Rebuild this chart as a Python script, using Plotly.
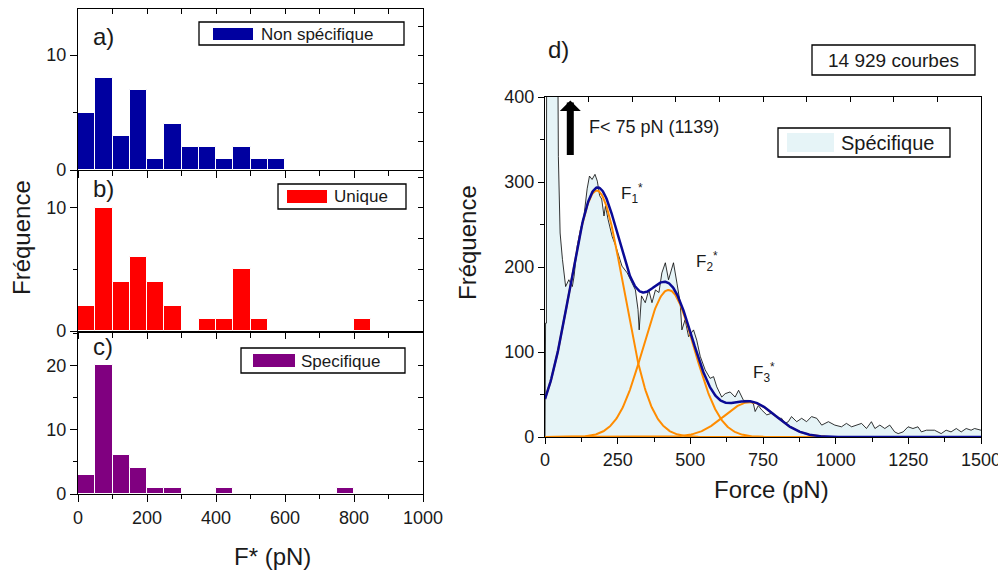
import numpy as np
import plotly.graph_objects as go

W, H = 1006, 573
OFF = 8  # page body margin of the browser
FONT = "Liberation Sans, Arial, sans-serif"
TXT = "#1a1a1a"

# ---------------- Left panels: histograms (bin width 50 pN) ----------------
bin_edges = list(range(0, 1000, 50))
non_specifique = [5, 8, 3, 7, 1, 4, 2, 2, 1, 2, 1, 1, 0, 0, 0, 0, 0, 0, 0, 0]
unique_vals = [2, 10, 4, 6, 4, 2, 0, 1, 1, 5, 1, 0, 0, 0, 0, 0, 1, 0, 0, 0]
specifique_vals = [3, 20, 6, 4, 1, 1, 0, 0, 1, 0, 0, 0, 0, 0, 0, 1, 0, 0, 0, 0]
bin_width = 50

# ---------------- Right panel: force histogram ----------------
force = [0, 2, 5, 6, 40, 46, 52, 60, 71, 82, 94, 100, 111, 122, 134, 145, 153, 162, 172,
         180, 188, 195, 203, 208, 217, 231, 243, 254, 265, 283, 300, 311, 320, 324, 332,
         345, 357, 368, 380, 392, 402, 414, 425, 442, 454, 465, 471, 482, 494, 511, 522,
         534, 551, 568, 580, 591, 608, 620, 637, 654, 666, 683, 700, 717, 723, 734, 745,
         763, 780, 803, 814, 826, 837, 848, 866, 883, 900, 917, 935, 952, 975, 997, 1020,
         1037, 1055, 1072, 1089, 1106, 1123, 1135, 1152, 1169, 1186, 1203, 1215, 1232,
         1249, 1266, 1283, 1295, 1312, 1340, 1363, 1380, 1397, 1415, 1432, 1449, 1466,
         1478, 1495, 1500]
counts = [0, 134, 134, 700, 700, 330, 240, 209, 177, 185, 177, 189, 225, 244, 260, 292, 307,
          303, 309, 301, 284, 280, 260, 272, 256, 236, 225, 213, 201, 193, 181, 173, 150,
          126, 166, 158, 173, 158, 173, 170, 193, 205, 185, 205, 181, 158, 126, 138, 118,
          126, 114, 95, 79, 69, 71, 59, 47, 51, 53, 47, 55, 43, 43, 39, 30, 37, 32, 26, 28,
          22, 22, 16, 18, 24, 18, 22, 18, 24, 22, 14, 18, 14, 12, 16, 12, 14, 16, 10, 18,
          10, 14, 10, 14, 6, 4, 6, 12, 10, 12, 6, 8, 8, 4, 8, 6, 10, 6, 10, 8, 10, 8, 8]

# Gaussian fit parameters (F1*, F2*, F3*)
fit_centers = [178, 425, 705]
fit_amplitudes = [290, 173, 41]
fit_sigmas = [92, 88, 88]
fit_xmax = 965


def px(x):
    return (x - OFF) / W


def py(y):
    return 1 - (y - OFF) / H


fig = go.Figure()

# bars
panels = [("x", "y", non_specifique, "#0000a0", "Non spécifique"),
          ("x2", "y2", unique_vals, "#ff0000", "Unique"),
          ("x3", "y3", specifique_vals, "#800080", "Specifique")]
for xa, ya, vals, col, name in panels:
    fig.add_trace(go.Bar(x=[b + bin_width / 2 for b in bin_edges], y=vals, width=bin_width,
                         marker=dict(color=col, line=dict(color="white", width=1)),
                         name=name, xaxis=xa, yaxis=ya, showlegend=False))

# right panel histogram
fig.add_trace(go.Scatter(x=force, y=counts, mode="lines", line=dict(color="black", width=0.8),
                         fill="tozeroy", fillcolor="#e6f4f7", name="Spécifique",
                         xaxis="x4", yaxis="y4", showlegend=False))

xf = np.linspace(0, fit_xmax, 400)
for c, a, s in zip(fit_centers, fit_amplitudes, fit_sigmas):
    fig.add_trace(go.Scatter(x=xf, y=a * np.exp(-(xf - c) ** 2 / (2 * s ** 2)), mode="lines",
                             line=dict(color="#ff8c00", width=2), xaxis="x4", yaxis="y4",
                             showlegend=False))
xs = np.linspace(0, 1500, 700)
ysum = sum(a * np.exp(-(xs - c) ** 2 / (2 * s ** 2))
           for c, a, s in zip(fit_centers, fit_amplitudes, fit_sigmas))
fig.add_trace(go.Scatter(x=xs, y=ysum, mode="lines", line=dict(color="#0a0a96", width=2.5),
                         xaxis="x4", yaxis="y4", showlegend=False))

# dummy traces for overlay (inside-tick) axes
for xa, ya in [("x5", "y"), ("x6", "y2"), ("x7", "y3"), ("x8", "y4"),
               ("x", "y5"), ("x2", "y6"), ("x3", "y7")]:
    fig.add_trace(go.Scatter(x=[None], y=[None], xaxis=xa, yaxis=ya, showlegend=False,
                             hoverinfo="skip"))

tickfont = dict(family=FONT, size=18, color=TXT)
base = dict(showline=True, linecolor="black", linewidth=1.2, mirror=True, ticks="outside",
            tickcolor="black", ticklen=7, tickwidth=1.2, showgrid=False, zeroline=False,
            tickfont=tickfont, type="linear", automargin=False)
ovl = dict(type="linear", ticklen=5, tickcolor="black", tickwidth=1.2, showticklabels=False,
           showline=False, showgrid=False, zeroline=False, automargin=False, ticks="inside")

xdom = [px(78), px(423)]
ydoms = {"y": [py(170), py(9)], "y2": [py(331), py(171)], "y3": [py(494), py(333)]}
yranges = {"y": [0, 14], "y2": [0, 13], "y3": [0, 25]}
yrdt = {"y": 2.5, "y2": 2.5, "y3": 5}

layout = dict(width=W, height=H, margin=dict(l=0, r=0, t=0, b=0, autoexpand=False),
              paper_bgcolor="white", plot_bgcolor="white", showlegend=False, bargap=0)

for i, (xa, ya) in enumerate([("x", "y"), ("x2", "y2"), ("x3", "y3")]):
    xk = "xaxis" if xa == "x" else "xaxis" + xa[1:]
    yk = "yaxis" if ya == "y" else "yaxis" + ya[1:]
    layout[xk] = dict(base, domain=xdom, range=[0, 1000], anchor=ya, dtick=200, tick0=0,
                      showticklabels=(i == 2),
                      minor=dict(dtick=100, ticks="outside", ticklen=4, tickcolor="black"))
    layout[yk] = dict(base, domain=ydoms[ya], range=yranges[ya], anchor=xa, dtick=10, tick0=0,
                      minor=dict(dtick=5, ticks="outside", ticklen=4, tickcolor="black"))
    layout["xaxis" + str(5 + i)] = dict(ovl, overlaying=xa, anchor=ya, side="top",
                                        range=[0, 1000], dtick=100, tick0=0)
    layout["yaxis" + str(5 + i)] = dict(ovl, overlaying=ya, anchor=xa, side="right",
                                        range=yranges[ya], dtick=yrdt[ya], tick0=0)

layout["xaxis4"] = dict(base, domain=[px(545), px(981)], range=[0, 1500], anchor="y4",
                        dtick=250, tick0=0, ticklen=6,
                        minor=dict(dtick=125, ticks="outside", ticklen=4, tickcolor="black"))
layout["yaxis4"] = dict(base, domain=[py(437), py(97)], range=[0, 400], anchor="x4",
                        dtick=100, tick0=0, ticklen=6,
                        minor=dict(dtick=50, ticks="outside", ticklen=4, tickcolor="black"))
layout["xaxis8"] = dict(ovl, overlaying="x4", anchor="y4", side="top", range=[0, 1500],
                        dtick=150, tick0=0)

fig.update_layout(**layout)

# ---------------- shapes (legend boxes) & annotations ----------------
shapes = []
annots = []


def box(x0, y0, x1, y1, fill=None, lw=1.3):
    shapes.append(dict(type="rect", xref="paper", yref="paper", x0=px(x0), x1=px(x1),
                       y0=py(y1), y1=py(y0),
                       line=dict(color="black", width=lw) if lw else dict(width=0),
                       fillcolor=fill if fill else "rgba(0,0,0,0)", layer="above"))


def text(t, x, y, size, xanchor="left", angle=0):
    annots.append(dict(text=t, x=px(x), y=py(y), xref="paper", yref="paper", showarrow=False,
                       xanchor=xanchor, yanchor="middle", textangle=angle,
                       font=dict(family=FONT, size=size, color=TXT)))


# legend a
box(199, 22, 404, 45)
box(213, 28, 253, 40, fill="#0000a0", lw=0)
text("Non spécifique", 259, 34, 17)
# legend b
box(278, 184, 406, 209)
box(287, 190, 327, 203, fill="#ff0000", lw=0)
text("Unique", 332, 197, 17)
# legend c
box(241, 348, 405, 373)
box(253, 354, 295, 367, fill="#800080", lw=0)
text("Specifique", 299, 361, 17)
# legend d
box(778, 128, 950, 157)
box(787, 133, 834, 152, fill="#e6f4f7", lw=0)
text("Spécifique", 839, 143, 20)
# courbes box
box(812, 45, 975, 75)
text("14 929 courbes", 893, 60, 19, xanchor="center")

text("a)", 91, 37, 24)
text("b)", 91, 188, 24)
text("c)", 91, 346, 24)
text("d)", 546, 50, 24)

text("F<sub>1</sub><sup>*</sup>", 619, 193, 17)
text("F<sub>2</sub><sup>*</sup>", 694, 261, 17)
text("F<sub>3</sub><sup>*</sup>", 751, 372, 17)
text("F&lt; 75 pN (1139)", 587, 127, 18)

text("Fréquence", 22, 238, 24, xanchor="center", angle=-90)
text("Fréquence", 467, 243, 24, xanchor="center", angle=-90)
text("F* (pN)", 272, 556, 24, xanchor="center")
text("Force (pN)", 771, 489, 24, xanchor="center")

# arrow
annots.append(dict(x=87, y=396, ax=87, ay=330, xref="x4", yref="y4", axref="x4", ayref="y4",
                   showarrow=True, arrowhead=1, arrowsize=0.5, arrowwidth=7,
                   arrowcolor="black", text=""))

fig.update_layout(shapes=shapes, annotations=annots)

fig.write_html("out.html")
